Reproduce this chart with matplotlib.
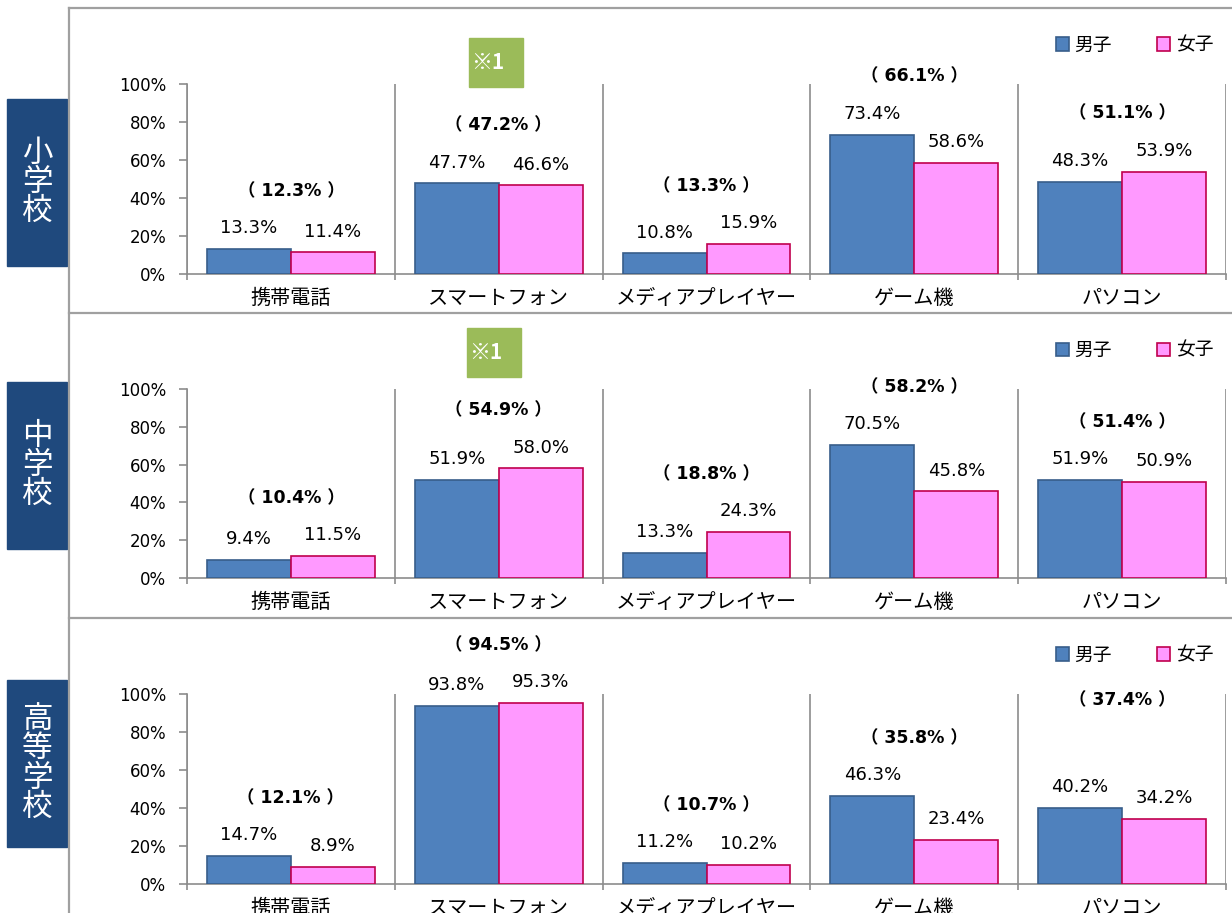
import numpy as np
import matplotlib
matplotlib.use('Agg')
import matplotlib.pyplot as plt
from matplotlib.patches import Rectangle
from matplotlib.lines import Line2D

# data (percent)
categories = ['携帯電話', 'スマートフォン', 'メディアプレイヤー', 'ゲーム機', 'パソコン']
schools = ['小学校', '中学校', '高等学校']
series_names = ['男子', '女子']

boys_elem = [13.3, 47.7, 10.8, 73.4, 48.3]
girls_elem = [11.4, 46.6, 15.9, 58.6, 53.9]
total_elem = [12.3, 47.2, 13.3, 66.1, 51.1]

boys_jh = [9.4, 51.9, 13.3, 70.5, 51.9]
girls_jh = [11.5, 58.0, 24.3, 45.8, 50.9]
total_jh = [10.4, 54.9, 18.8, 58.2, 51.4]

boys_hs = [14.7, 93.8, 11.2, 46.3, 40.2]
girls_hs = [8.9, 95.3, 10.2, 23.4, 34.2]
total_hs = [12.1, 94.5, 10.7, 35.8, 37.4]

note_mark = '※1'
yticks = [0, 20, 40, 60, 80, 100]

# layout (pixels of the 1232x913 canvas)
W, H = 1232, 913
panel_axes_px = [(187, 84, 274), (187, 389, 578), (187, 694, 884)]   # left, top, bottom
label_box_px = [(7, 99, 60, 167), (7, 382, 60, 167), (7, 680, 60, 167)]
note_box_px = [(469, 38, 54, 49), (467, 328, 54, 49), None]
total_lift = [[0, 0, 0, 0, 0], [0, 0, 0, 0, 0], [0, 0, 0, 0, 26]]

BLUE, BLUE_EDGE = '#4F81BD', '#385D8A'
PINK, PINK_EDGE = '#FF99FF', '#C0004E'
GRID = '#8C8C8C'
JP = ['Noto Sans CJK JP', 'DejaVu Sans']
NUM = ['DejaVu Sans', 'Noto Sans CJK JP']


def fx(x):
    return x / W


def fy(y):
    return 1 - y / H


fig = plt.figure(figsize=(W / 100, H / 100), dpi=100)

# panel frames
frame_kw = dict(color='#A0A0A0', lw=1.6, transform=fig.transFigure)
fig.add_artist(Line2D([fx(69), fx(69)], [fy(8), 0], **frame_kw))
for y in [8, 313, 618]:
    fig.add_artist(Line2D([fx(69), 1], [fy(y), fy(y)], **frame_kw))

data = [(boys_elem, girls_elem, total_elem),
        (boys_jh, girls_jh, total_jh),
        (boys_hs, girls_hs, total_hs)]

x = np.arange(len(categories))
bw = 0.404

for i, (boys, girls, total) in enumerate(data):
    left, top, bottom = panel_axes_px[i]
    ax = fig.add_axes([fx(left), fy(bottom), fx(1226) - fx(left), fy(top) - fy(bottom)])

    b1 = ax.bar(x - bw / 2, boys, bw, color=BLUE, edgecolor=BLUE_EDGE, lw=1.2, zorder=3, label=series_names[0])
    b2 = ax.bar(x + bw / 2, girls, bw, color=PINK, edgecolor=PINK_EDGE, lw=1.2, zorder=3, label=series_names[1])

    for xs, vals in [(x - bw / 2, boys), (x + bw / 2, girls)]:
        for xv, v in zip(xs, vals):
            ax.annotate(f'{v:.1f}%', (xv, v), xytext=(0, 15), textcoords='offset points',
                        ha='center', va='center', fontsize=13, family=NUM)

    for j, t in enumerate(total):
        ypos = max(boys[j], girls[j]) + 30.5 + total_lift[i][j]
        ax.text(x[j], ypos, f'（ {t:.1f}% ）', ha='center', va='center',
                fontsize=12.5, fontweight='bold', family=NUM)

    ax.set_xlim(-0.5, len(categories) - 0.5)
    ax.set_ylim(0, 100)
    ax.set_yticks(yticks)
    ax.set_yticklabels([f'{t}%' for t in yticks], family=NUM, fontsize=12)
    ax.set_xticks(np.arange(-0.5, len(categories), 1.0))
    ax.set_xticklabels([])
    ax.set_xticks(x, minor=True)
    ax.set_xticklabels(categories, minor=True, family=JP, fontsize=14.5)
    ax.tick_params(axis='x', which='minor', length=0, pad=10)
    ax.tick_params(axis='x', which='major', length=4, width=1.2, color=GRID, direction='out')
    ax.tick_params(axis='y', length=6, width=1.2, color=GRID, direction='out', pad=9)
    ax.grid(axis='x', which='major', color=GRID, lw=1.2, zorder=0)
    for s in ['top', 'right']:
        ax.spines[s].set_visible(False)
    for s in ['left', 'bottom']:
        ax.spines[s].set_color(GRID)
        ax.spines[s].set_linewidth(1.2)

    leg = ax.legend(handles=[b1, b2], loc='center', bbox_to_anchor=(0.912, 1.205), ncol=2,
                    frameon=False, handlelength=0.7, handleheight=0.7, handletextpad=0.3,
                    columnspacing=2.4, prop={'family': JP, 'size': 13.5})

    # school label box
    bx, by, bwid, bht = label_box_px[i]
    fig.add_artist(Rectangle((fx(bx), fy(by + bht)), bwid / W, bht / H,
                             transform=fig.transFigure, color='#1F497D'))
    fig.text(fx(bx + bwid / 2), fy(by + bht / 2), '\n'.join(schools[i]), color='white',
             ha='center', va='center', fontsize=22, family=JP, linespacing=0.92)

    # note box
    if note_box_px[i] is not None:
        nx, ny, nw, nh = note_box_px[i]
        fig.add_artist(Rectangle((fx(nx), fy(ny + nh)), nw / W, nh / H,
                                 transform=fig.transFigure, color='#9BBB59'))
        fig.text(fx(nx + 2), fy(ny + nh / 2), note_mark, color='white',
                 ha='left', va='center', fontsize=15, fontweight='bold', family=JP)

fig.savefig('out.png', dpi=100)
